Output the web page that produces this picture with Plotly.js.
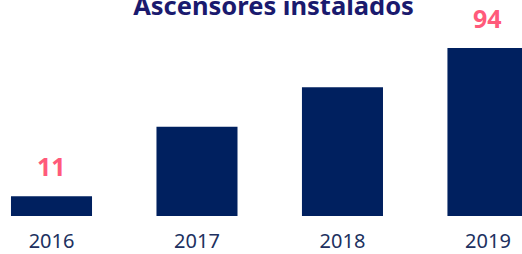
<!DOCTYPE html>
<html><head><meta charset="utf-8">
<script src="https://cdn.plot.ly/plotly-3.0.1.min.js"></script>
<style>html,body{margin:0;padding:0;background:#fff;}#c{width:522px;height:254px;}</style>
</head><body><div id="c"></div>
<script>
const years = ['2016','2017','2018','2019'];
const values = [11, 50, 72, 94];
const labelYears = ['2016','2019'];
const labelValues = [11, 94];

const trace = {
  type: 'bar', x: years, y: values,
  marker: {color: '#00205f'},
  hoverinfo: 'none'
};
const annotations = labelYears.map((yr, i) => ({
  x: years.indexOf(yr), y: labelValues[i], xref: 'x', yref: 'y',
  text: '<b>' + labelValues[i] + '</b>', showarrow: false,
  yanchor: 'bottom', yshift: 11,
  font: {family: 'Noto Sans, sans-serif', size: 25, color: '#ff5a7a'}
}));
const layout = {
  width: 522, height: 254,
  margin: {l: 0, r: 0, t: 0, b: 38},
  paper_bgcolor: '#fff', plot_bgcolor: '#fff',
  bargap: 0.443,
  showlegend: false,
  title: {
    text: '<b>Ascensores instalados</b>',
    x: 0.524, xanchor: 'center', xref: 'paper',
    y: 0.975, yanchor: 'middle', yref: 'container',
    font: {family: 'Noto Sans, sans-serif', size: 25.5, color: '#1a1a6e'}
  },
  xaxis: {
    type: 'category', range: [-0.354, 3.234],
    showgrid: false, zeroline: false, showline: false, ticks: '',
    tickfont: {family: 'Noto Sans, sans-serif', size: 20, color: '#203060'},
    ticklabelstandoff: 11
  },
  yaxis: {range: [0, 120.9], visible: false, showgrid: false, zeroline: false},
  annotations: annotations
};
Plotly.newPlot('c', [trace], layout, {displayModeBar: false, staticPlot: true});
</script></body></html>
